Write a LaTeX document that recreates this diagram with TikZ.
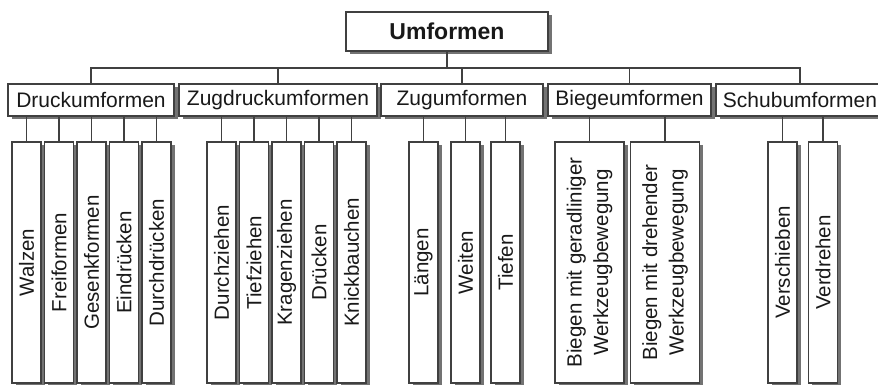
\documentclass[tikz,border=0pt]{standalone}
\usepackage{fontspec}
\setmainfont{Liberation Sans}
\usetikzlibrary{shadows}

\tikzset{
  box/.style={draw=black!75, line width=1.1pt, fill=white, text=black!90, inner sep=0pt,
    drop shadow={shadow xshift=3.5pt, shadow yshift=-3.5pt, fill=black!55, opacity=1}},
  topbox/.style={box, minimum width=202pt, minimum height=39pt,
    font=\fontsize{23}{27}\selectfont\bfseries},
  groupbox/.style={box, minimum height=32pt, font=\fontsize{21}{25}\selectfont},
  leafbox/.style={box, minimum width=29pt, minimum height=241pt,
    font=\fontsize{20.5}{26.5}\selectfont},
  wideleaf/.style={leafbox, minimum width=69pt},
  link/.style={draw=black!75, line width=1.1pt}
}
\newcommand{\vtext}[1]{\rotatebox{90}{#1}}
\newcommand{\vtwo}[2]{\rotatebox{90}{\begin{tabular}{@{}c@{}}#1\\#2\end{tabular}}}

\begin{document}
\begin{tikzpicture}[x=1pt,y=-1pt]
                \path[use as bounding box] (0,0) rectangle (878,385);
                \clip (0,0) rectangle (878,385);

                \node[topbox] (umf) at (447,31.5) {Umformen};

                \node[groupbox, minimum width=166pt] (druck) at (91,100) {Druckumformen};
                \node[groupbox, minimum width=198pt] (zugdruck) at (278,100) {Zugdruckumformen};
                \node[groupbox, minimum width=162pt] (zug) at (462,100) {Zugumformen};
                \node[groupbox, minimum width=163pt] (biege) at (629.5,100) {Biegeumformen};
                \node[groupbox, minimum width=168pt] (schub) at (800,100) {Schubumformen};

                \node[leafbox] (walzen) at (26.5,262.5) {\vtext{Walzen}};
                \node[leafbox] (freif) at (59,262.5) {\vtext{Freiformen}};
                \node[leafbox] (gesenk) at (91.5,262.5) {\vtext{Gesenkformen}};
                \node[leafbox] (eindr) at (124,262.5) {\vtext{Eindrücken}};
                \node[leafbox] (durchdr) at (156.5,262.5) {\vtext{Durchdrücken}};

                \node[leafbox] (durchz) at (221.5,262.5) {\vtext{Durchziehen}};
                \node[leafbox] (tiefz) at (254,262.5) {\vtext{Tiefziehen}};
                \node[leafbox] (kragen) at (286.5,262.5) {\vtext{Kragenziehen}};
                \node[leafbox] (drueck) at (319,262.5) {\vtext{Drücken}};
                \node[leafbox] (knick) at (351.5,262.5) {\vtext{Knickbauchen}};

                \node[leafbox] (laengen) at (423.5,262.5) {\vtext{Längen}};
                \node[leafbox] (weiten) at (465.5,262.5) {\vtext{Weiten}};
                \node[leafbox] (tiefen) at (505.5,262.5) {\vtext{Tiefen}};

                \node[wideleaf] (gerad) at (589.5,262.5) {\vtwo{Biegen mit geradliniger}{Werkzeugbewegung}};
                \node[wideleaf] (dreh) at (665,262.5) {\vtwo{Biegen mit drehender}{Werkzeugbewegung}};

                \node[leafbox] (verschieb) at (782.5,262.5) {\vtext{Verschieben}};
                \node[leafbox] (verdreh) at (823,262.5) {\vtext{Verdrehen}};

                \coordinate (bus) at (447,68);
                \draw[link] (umf.south) -- (bus);
                \draw[link] (druck.north) |- (bus) -| (schub.north);
                \foreach \g in {zugdruck,zug,biege}
                    \draw[link] (\g.north) -- (\g.north |- bus);

                \foreach \g/\c in {druck/walzen, druck/freif, druck/gesenk, druck/eindr, druck/durchdr,
                                   zugdruck/durchz, zugdruck/tiefz, zugdruck/kragen, zugdruck/drueck, zugdruck/knick,
                                   zug/laengen, zug/weiten, zug/tiefen,
                                   biege/gerad, biege/dreh,
                                   schub/verschieb, schub/verdreh}
                    \draw[link] (\g.south -| \c.north) -- (\c.north);
            \end{tikzpicture}
\end{document}
